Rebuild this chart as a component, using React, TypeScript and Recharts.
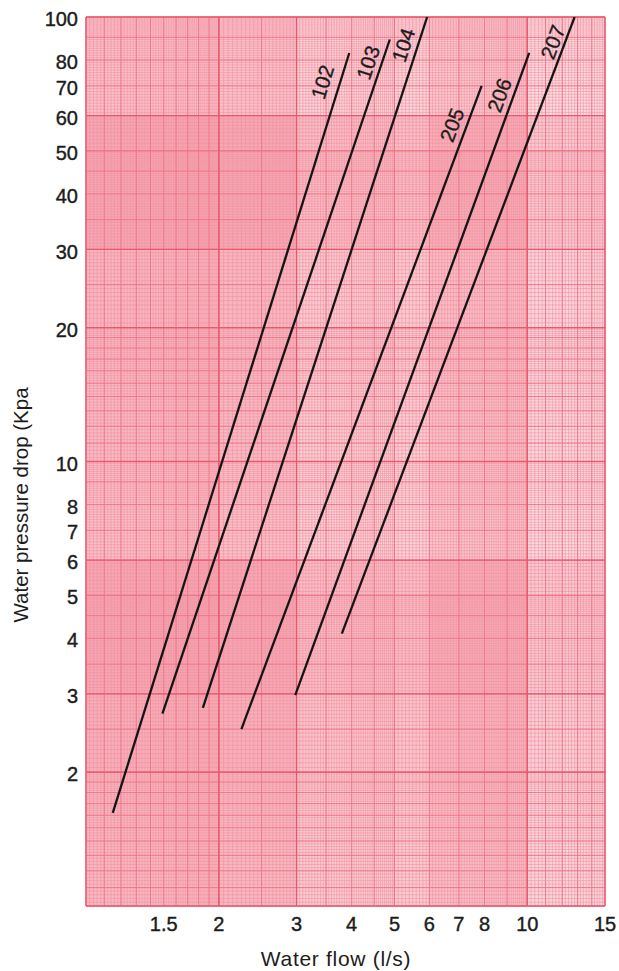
import { LineChart, Line, XAxis, YAxis, CartesianGrid, LabelList } from 'recharts';

// pump curves: start and end point of each straight line
const seriesNames = ['102', '103', '104', '205', '206', '207'];
const startFlow = [1.15, 1.49, 1.84, 2.25, 2.98, 3.8];
const startDrop = [1.62, 2.71, 2.79, 2.5, 2.98, 4.1];
const endFlow = [3.95, 4.88, 5.93, 7.88, 10.1, 12.8];
const endDrop = [83, 89, 100, 70, 83, 100];

const flowTicks = [1.5, 2, 3, 4, 5, 6, 7, 8, 10, 15];
const dropTicks = [2, 3, 4, 5, 6, 7, 8, 10, 20, 30, 40, 50, 60, 70, 80, 100];

// log paper ruling: [from, to, fine step, medium step]
const flowRuling = [
  [1, 2, 0.02, 0.1],
  [2, 5, 0.05, 0.5],
  [5, 10, 0.1, 1],
  [10, 15, 0.2, 1]
];
const dropRuling = [
  [1, 2, 0.02, 0.1],
  [2, 5, 0.05, 0.5],
  [5, 10, 0.1, 1],
  [10, 20, 0.2, 1],
  [20, 50, 0.5, 5],
  [50, 100, 1, 10]
];
const flowMajor = [1, 2, 3, 10, 15];
const dropMajor = [1, 2, 3, 6, 10, 20, 30, 60, 100];
const flowBands = [1, 3, 6, 10, 15];
const dropBands = [100, 60, 30, 20, 10, 6, 3, 2, 1];

// label placement relative to the top end of each line
const labelDx = [-27, -22, -24, -30, -30, -22];
const labelDy = [29, 23, 28, 39, 42, 25];
const labelAngle = [-72.7, -71.4, -72, -69.5, -69.9, -69.3];

const FONT = '"Liberation Sans", Arial, Helvetica, sans-serif';
const INK = '#1c1c1c';

const ruling = (rows: number[][], col: number) =>
  rows.flatMap(([from, to, fine, medium]) => {
    const step = col === 2 ? fine : medium;
    const n = Math.round((to - from) / step);
    return Array.from({ length: n + 1 }, (_, i) => +(from + i * step).toFixed(4));
  });

const at = (axis: any, v: number) => {
  const s = axis?.scale;
  if (!s) return 0;
  return typeof s === 'function' ? s(v) : s.map(v);
};
const vGen = (values: number[]) => ({ xAxis }: any) => values.map((v) => at(xAxis, v));
const hGen = (values: number[]) => ({ yAxis }: any) => values.map((v) => at(yAxis, v));

const series = seriesNames.map((name, i) => ({
  name,
  data: [
    { flow: startFlow[i], drop: startDrop[i] },
    { flow: endFlow[i], drop: endDrop[i] }
  ]
}));

const renderTag = (i: number) => (props: any) => {
  if (props.index !== 1) return null;
  const cx = Number(props.x) + labelDx[i];
  const cy = Number(props.y) + labelDy[i];
  return (
    <text
      x={cx}
      y={cy}
      transform={`rotate(${labelAngle[i]} ${cx} ${cy})`}
      textAnchor="middle"
      dominantBaseline="central"
      fontSize={20.5}
      fontFamily={FONT}
      fill={INK}
      stroke={INK}
      strokeWidth={0.35}
    >
      {seriesNames[i]}
    </text>
  );
};

const tickStyle = { fill: INK, fontSize: 20, fontFamily: FONT, stroke: INK, strokeWidth: 0.4 };

export default function App() {
  return (
    <>
      <style>{'body { margin: 0; overflow: hidden; }'}</style>
      <LineChart width={619} height={971} margin={{ top: 17, right: 14, left: 0, bottom: 0 }}>
        <CartesianGrid
          fill="#fbd4da"
          fillOpacity={1}
          stroke="none"
          horizontalCoordinatesGenerator={hGen(dropBands)}
          verticalCoordinatesGenerator={vGen(flowBands)}
          horizontalFill={['#fbd0d6', '#f7b2bd', '#f9c2ca', '#f9c6cd', '#fbcdd3', '#f7b2bd', '#f8bac3', '#f9c4cb', '#f9c4cb']}
        />
        <CartesianGrid
          stroke="none"
          fillOpacity={1}
          horizontal={false}
          verticalCoordinatesGenerator={vGen(flowBands)}
          verticalFill={['rgba(232,80,104,0.10)', 'rgba(255,255,255,0.16)', 'rgba(232,80,104,0.04)', 'rgba(255,255,255,0.3)', 'rgba(255,255,255,0)']}
        />
        <CartesianGrid
          stroke="#f3919f"
          strokeWidth={0.6}
          horizontalCoordinatesGenerator={hGen(ruling(dropRuling, 2))}
          verticalCoordinatesGenerator={vGen(ruling(flowRuling, 2))}
        />
        <CartesianGrid
          stroke="#ee7487"
          strokeWidth={0.9}
          horizontalCoordinatesGenerator={hGen(ruling(dropRuling, 3))}
          verticalCoordinatesGenerator={vGen(ruling(flowRuling, 3))}
        />
        <CartesianGrid
          stroke="#e8586e"
          strokeWidth={1.3}
          horizontalCoordinatesGenerator={hGen(dropMajor)}
          verticalCoordinatesGenerator={vGen(flowMajor)}
        />
        <XAxis
          dataKey="flow"
          type="number"
          scale="log"
          domain={[1, 15]}
          allowDataOverflow
          ticks={flowTicks}
          interval={0}
          axisLine={false}
          tickLine={false}
          tick={{ ...tickStyle, dy: 3 }}
          height={65}
          label={{
            value: 'Water flow (l/s)',
            content: () => (
              <text
                x={336}
                y={966}
                textAnchor="middle"
                fontSize={21}
                letterSpacing={0.7}
                fontFamily={FONT}
                fill={INK}
              >
                Water flow (l/s)
              </text>
            )
          }}
        />
        <YAxis
          dataKey="drop"
          type="number"
          scale="log"
          domain={[1, 100]}
          allowDataOverflow
          ticks={dropTicks}
          interval={0}
          axisLine={false}
          tickLine={false}
          tick={{ ...tickStyle, dy: 2 }}
          width={86}
          label={{
            value: 'Water pressure drop (Kpa',
            content: () => (
              <text
                x={20}
                y={505}
                transform="rotate(-90 20 505)"
                textAnchor="middle"
                dominantBaseline="central"
                fontSize={20.5}
                fontFamily={FONT}
                fill={INK}
              >
                Water pressure drop (Kpa
              </text>
            )
          }}
        />
        {series.map((s, i) => (
          <Line
            key={s.name}
            data={s.data}
            dataKey="drop"
            type="linear"
            stroke="#151515"
            strokeWidth={2.3}
            dot={false}
            isAnimationActive={false}
          >
            <LabelList dataKey="drop" content={renderTag(i)} />
          </Line>
        ))}
      </LineChart>
    </>
  );
}
